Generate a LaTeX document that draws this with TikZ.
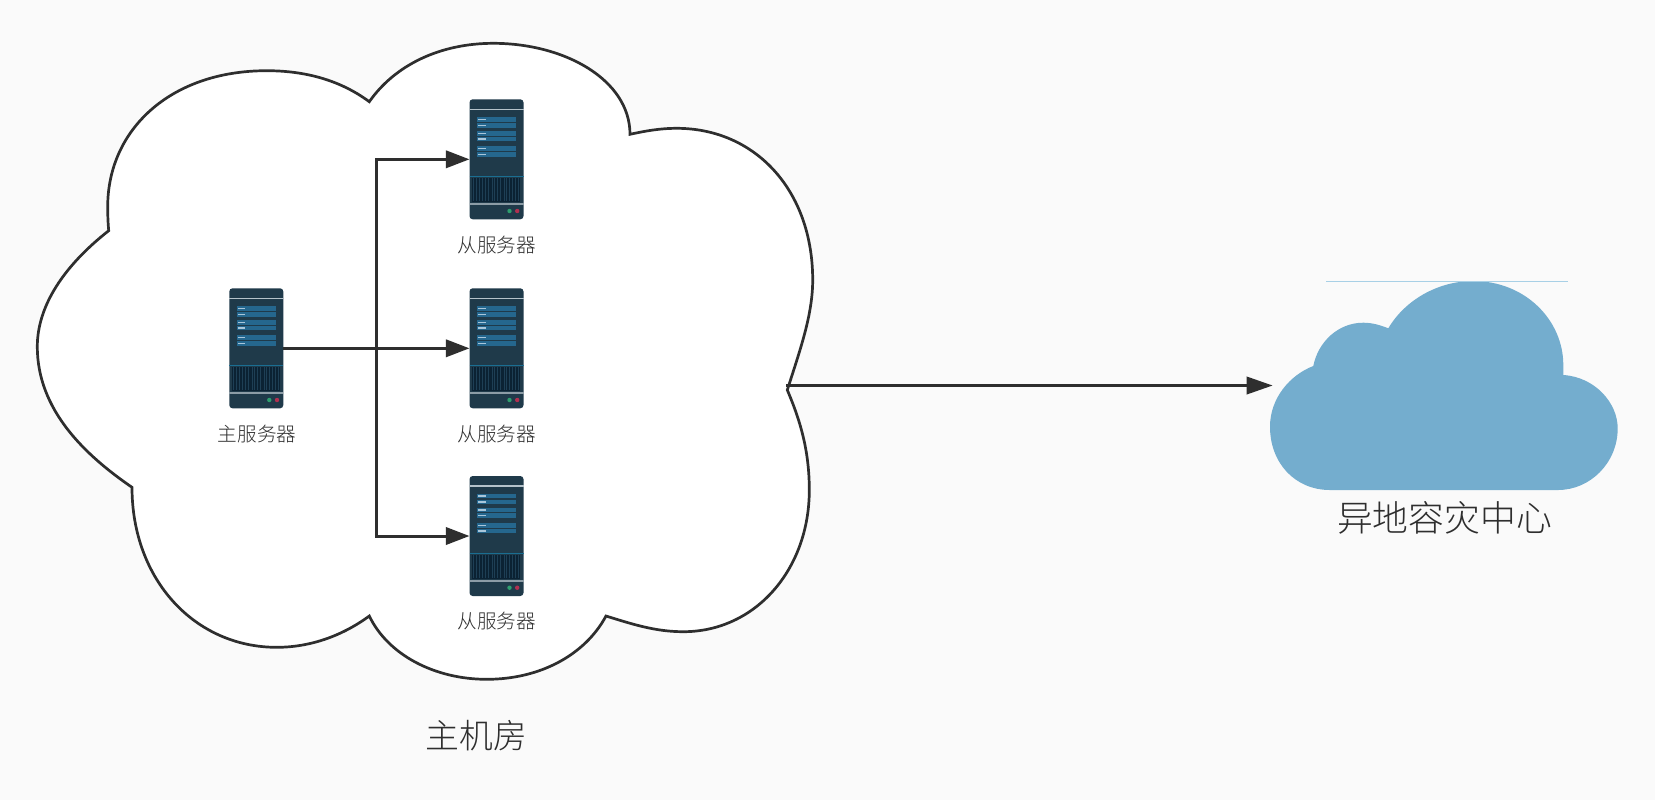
\documentclass[tikz,border=0pt]{standalone}
\usepackage{fontspec}
\setmainfont{Noto Sans CJK SC Light}
\usetikzlibrary{arrows.meta}
\definecolor{bgc}{HTML}{FAFAFA}
\definecolor{ink}{HTML}{2E2E2E}
\definecolor{srvbody}{HTML}{1F3A4A}
\definecolor{srvstrip}{HTML}{25678E}
\definecolor{srvtick}{HTML}{A9C6DA}
\definecolor{srvteal}{HTML}{1A6E92}
\definecolor{srvgrill}{HTML}{0B2233}
\definecolor{srvgrillb}{HTML}{1E3F55}
\definecolor{srvgrey}{HTML}{8C9CA6}
\definecolor{srvlight}{HTML}{B4C2CA}
\definecolor{srvgreen}{HTML}{2E9E6E}
\definecolor{srvred}{HTML}{B03050}
\definecolor{cloudblue}{HTML}{74ADCE}
\definecolor{cloudline}{HTML}{A8D0E6}
\tikzset{
  x=0.5pt,y=-0.5pt,
  roomcloud/.style={draw=ink,fill=white,line width=1.35pt,line join=miter},
  drcloud/.style={fill=cloudblue},
  conn/.style={draw=ink,line width=1.5pt},
  tipped/.style={conn,-{Triangle[length=11.8pt,width=8.6pt]}},
  longtipped/.style={conn,-{Triangle[length=13pt,width=8.6pt]}},
  serverbody/.style={fill=srvbody,rounded corners=1.6pt,minimum width=27pt,minimum height=60pt,inner sep=0pt,outer sep=0pt,anchor=north west},
  smalllabel/.style={font=\fontsize{9.8pt}{11pt}\selectfont,text=ink,inner sep=0pt},
  biglabel/.style={font=\fontsize{16.9pt}{18pt}\selectfont,text=ink,inner sep=0pt},
  drlabel/.style={font=\fontsize{17.9pt}{20pt}\selectfont,text=ink,inner sep=0pt},
  pics/srvdetail/.style={code={
    \draw[srvlight,line width=0.7pt] (0,10) -- (54,10);
    \foreach \yy in {20,26,34,39.7,49.3,55}{
      \fill[srvstrip] (7.3,\yy-2.4) rectangle (46.7,\yy+2.4);
      \fill[srvtick] (8.8,\yy-0.7) rectangle (16,\yy+0.7);
    }
    \fill[srvgrill] (2.3,78.5) rectangle (50.7,102.5);
    \foreach \xx in {4,7,9.5,13,16,19,22.5,25,28,31,34.5,37,40,43,46,49}{
      \draw[srvgrillb,line width=0.25pt] (\xx,79) -- (\xx,102);
    }
    \draw[srvteal,line width=0.5pt] (0,77.3) -- (54,77.3);
    \draw[srvgrey,line width=1pt] (0,105) -- (54,105);
    \fill[srvgreen] (40,111.7) circle[radius=2.2];
    \fill[srvred] (47.7,111.7) circle[radius=2.2];
  }}
}
\begin{document}
\begin{tikzpicture}
\useasboundingbox[fill=bgc] (0,0) rectangle (1655,800);
% machine room cloud
\path[roomcloud]
  (369.3,101.7) .. controls (340,80) and (305,70.7) .. (266.7,70.7)
  .. controls (170,70.7) and (107.7,130) .. (107.7,206.7)
  .. controls (107.7,215) and (108,223) .. (108.7,230.7)
  .. controls (65,265) and (37.3,305) .. (37.3,346.7)
  .. controls (37.3,410) and (85,455) .. (132,487.3)
  .. controls (132,580) and (195,647.3) .. (276.7,647.3)
  .. controls (310,647.3) and (342,636) .. (369.3,616)
  .. controls (388,655) and (435,679.3) .. (486.7,679.3)
  .. controls (540,679.3) and (585,655) .. (606,616)
  .. controls (632,624) and (655,631.7) .. (683.3,631.7)
  .. controls (755,631.7) and (809.3,570) .. (809.3,490)
  .. controls (809.3,450) and (800,420) .. (787.3,390)
  .. controls (800,350) and (812.7,315) .. (812.7,280)
  .. controls (812.7,190) and (755,128.3) .. (676.7,128.3)
  .. controls (660,128.3) and (645,131) .. (630,134.3)
  .. controls (630,80) and (565,43.3) .. (493.3,43.3)
  .. controls (440,43.3) and (395,65) .. (369.3,101.7)
  -- cycle;
\coordinate (roomout) at (786,385.5);
% remote cloud
\path[drcloud]
  (1313.3,366) .. controls (1318,342) and (1338,322.7) .. (1363.3,322.7)
  .. controls (1372,322.7) and (1380,325) .. (1388.3,328.3)
  .. controls (1405,300) and (1438,281) .. (1473.3,281)
  .. controls (1525,281) and (1563.3,320) .. (1563.3,365)
  -- (1563.3,375)
  .. controls (1595,377) and (1617.7,403) .. (1617.7,428.3)
  .. controls (1617.7,463) and (1590,490) .. (1558,490)
  -- (1330,490)
  .. controls (1295,490) and (1270,463) .. (1270,426.7)
  .. controls (1270,398) and (1290,375) .. (1313.3,366)
  -- cycle;
\draw[cloudline,line width=0.5pt] (1326,281.3) -- (1568,281.3);
\coordinate (drin) at (1272.7,385.5);
% servers
\node[serverbody] (master) at (229.3,288.3) {};
\node[serverbody] (slavea) at (469.5,99.3) {};
\node[serverbody] (slaveb) at (469.5,288.3) {};
\node[serverbody] (slavec) at (469.5,476) {};
\pic at (master.north west) {srvdetail};
\pic at (slavea.north west) {srvdetail};
\pic at (slaveb.north west) {srvdetail};
\pic at (slavec.north west) {srvdetail};
% labels
\node[smalllabel] (lm) at (257,434) {主服务器};
\node[smalllabel] (la) at (496.7,244.7) {从服务器};
\node[smalllabel] (lb) at (496.7,433.7) {从服务器};
\node[smalllabel] (lc) at (496.7,621.2) {从服务器};
\node[biglabel] (lroom) at (476.6,736) {主机房};
\node[drlabel] (ldr) at (1444.5,518) {异地容灾中心};
% connectors
\coordinate (fork) at (376.5,348.3);
\draw[tipped] (master.east) -- (slaveb.west);
\draw[tipped] (fork) |- (slavea.west);
\draw[tipped] (fork) |- (slavec.west);
\draw[longtipped] (roomout) -- (drin);
\end{tikzpicture}
\end{document}
